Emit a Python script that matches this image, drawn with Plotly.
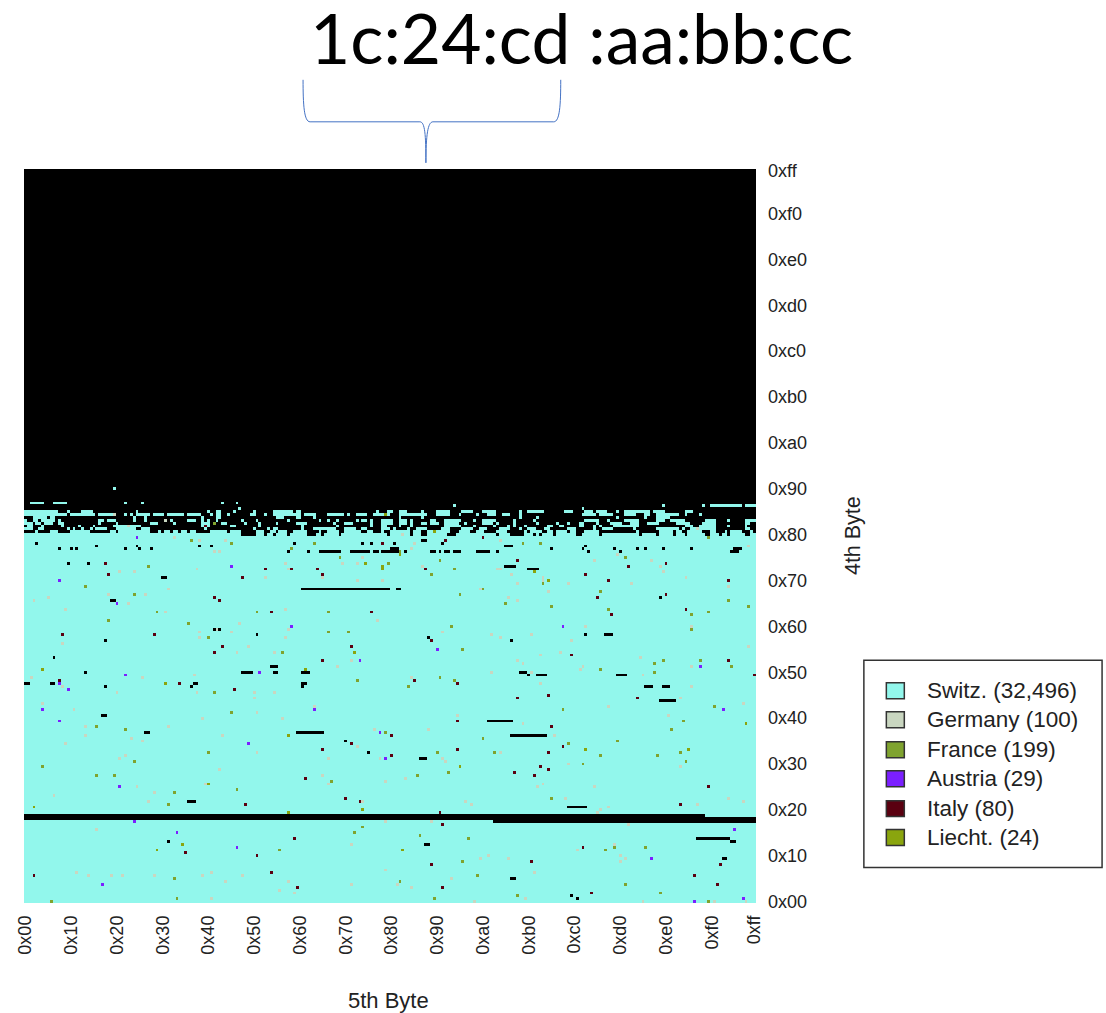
import plotly.graph_objects as go

# ---------- categories ----------
categories = ["Switz. (32,496)", "Germany (100)", "France (199)", "Austria (29)", "Italy (80)", "Liecht. (24)"]
swatch_colors = ["#92f7ec", "#c9d6c0", "#7fa32f", "#7b1fff", "#5a0010", "#8aa50e"]
tick_bytes = [0x00, 0x10, 0x20, 0x30, 0x40, 0x50, 0x60, 0x70, 0x80, 0x90, 0xa0, 0xb0, 0xc0, 0xd0, 0xe0, 0xf0, 0xff]
header_text = "1c:24:cd :aa:bb:cc"

# ---------- values: (5th byte, 4th byte) ----------
germany = [(32,73),(60,73),(80,73),(87,73),(80,71),(6,69),(17,67),(101,68),(81,66),(62,64),(90,64),(21,61),(50,61),(21,58),(69,58),
 (37,57),(41,56),(14,55),(81,52),(35,51),(33,50),(106,50),(124,50),(68,46),(104,44),(126,42),(106,41),(63,41),(39,40),(45,38),
 (10,37),(43,35),(118,35),(126,28),(25,25),(114,20),(18,10),(65,10),(22,9),(126,11),(114,6),(92,7),(89,4),(94,3),(76,9),(70,7),
 (62,9),(45,9),(34,9),(30,9),(65,1),(122,60),(116,54),(229,71),(204,68),(251,69),(151,65),(225,65),(174,62),(141,60),(185,58),
 (166,52),(146,50),(147,49),(190,48),(229,47),(133,43),(181,41),(179,40),(199,40),(189,36),(246,36),(251,35),(235,34),(154,35),
 (156,34),(204,33),(201,32),(200,31),(142,28),(211,27),(206,20),(193,18),(162,16),(159,15),(169,15),(208,16),(208,14),(210,15),
 (178,10),(149,8),(130,6),(135,5),(175,1),(157,0),(216,0),(241,0),(252,0),
 (31,135),(49,133),(36,131),(52,127),(61,126),(70,126),(66,122),(68,122),(33,115),(38,115),(60,116),(91,118),(92,116),(84,113),
 (104,113),(111,118),(116,118),(118,120),(116,112),(125,112),(50,109),(29,107),(42,107),(3,105),(8,106),(36,104),(14,102),(49,101),
 (91,102),(123,98),(75,97),(61,94),(72,94),(67,95),(92,95),(91,92),(61,92),(13,90),(78,89),(74,87),(87,87),(114,84),(109,82),(59,79),
 (2,78),(41,78),(13,75),(132,128),(136,125),(135,123),(166,126),(235,130),(253,124),(207,121),(199,119),(219,119),(222,117),(139,117),
 (165,116),(166,116),(170,114),(223,115),(181,113),(181,112),(231,113),(172,111),(190,111),(212,111),(246,110),(159,109),(183,108),
 (169,106),(172,105),(146,94),(163,93),(166,92),(177,93),(196,96),(233,96),(191,91),(180,86),(253,89),(187,87),(215,85),(172,84),
 (174,83),(195,82),(194,81),(233,82),(163,80),(177,80),(216,79),(135,78),(180,76),(233,75)]
france = [(66,73),(72,66),(25,61),(35,60),(64,52),(38,49),(6,47),(25,44),(31,44),(107,42),(74,39),(52,38),(50,34),(126,59),(118,26),
 (115,24),(89,18),(52,8),(9,0),(53,1),(188,67),(241,68),(230,63),(226,60),(160,57),(190,55),(207,56),(229,52),(221,51),(201,51),
 (164,52),(144,52),(231,49),(148,45),(137,44),(195,48),(184,36),(138,23),(155,22),(203,18),(206,19),(217,19),(153,14),(158,9),
 (131,7),(210,6),(222,3),(172,2),(143,1),(239,0),
 (58,126),(72,125),(66,132),(101,125),(93,123),(110,120),(127,118),(43,117),(21,110),(38,107),(46,101),(81,101),(106,101),(29,98),
 (57,97),(64,92),(106,94),(113,94),(90,87),(116,77),(174,125),(180,125),(239,127),(210,120),(131,122),(145,119),(150,116),(142,114),
 (181,111),(160,109),(152,107),(201,108),(168,104),(184,103),(204,102),(233,100),(239,101),(253,103),(246,105),(149,96),(233,95),
 (153,88),(223,84),(220,83),(236,84),(247,82),(201,81),(220,80),(145,78),(150,77),(134,75)]
austria = [(15,74),(6,67),(12,63),(101,67),(124,59),(78,55),(126,50),(33,40),(38,28),(53,24),(74,19),(27,6),(244,67),(248,25),(219,15),
 (234,0),(251,1),(39,127),(12,112),(72,117),(32,104),(93,96),(35,79),(82,80),(12,76),(117,84),(144,88),(188,96),(236,82)]
italy = [(73,74),(114,55),(104,53),(98,43),(112,36),(117,35),(77,34),(94,22),(81,16),(56,17),(86,10),(95,5),(3,9),(172,71),(183,72),
 (214,71),(151,63),(184,61),(128,58),(188,54),(128,51),(151,53),(183,52),(180,47),(183,46),(171,45),(178,44),(239,40),(229,34),
 (145,31),(146,27),(142,13),(177,14),(243,13),(146,5),(242,6),(198,3),(234,9),(195,19),
 (28,118),(29,114),(66,106),(68,105),(13,93),(45,93),(69,89),(66,87),(12,77),(54,76),(84,116),(93,116),(76,113),(86,101),(121,101),
 (102,116),(104,114),(114,89),(104,84),(63,131),(125,125),(147,126),(160,127),(140,116),(172,119),(211,117),(224,118),(196,114),
 (204,112),(246,112),(200,106),(224,107),(231,102),(205,100),(142,91),(191,86),(246,84),(136,77),(151,76),(255,79)]
liecht = [(92,58),(64,41),(3,33),(118,32),(92,31),(55,20),(46,18),(252,62),(196,53),(232,53),(152,47),(132,18),
 (119,118),(125,117),(125,116),(115,87),(6,81),(98,81),(49,76),(126,135),(143,129),(178,115),(183,112),(131,121)]
# runs of unassigned space: (4th byte, first 5th byte, last 5th byte)
black_runs = [(65,27,28),(59,42,43),(59,95,104),(56,112,112),(52,120,120),(35,57,59),(21,50,50),
 (30,0,163),(29,0,163),(30,164,237),(29,164,237),(28,164,237),(29,238,255),(28,238,255),
 (63,162,170),(58,170,182),(70,222,227),(50,138,140),(33,190,196),(20,140,141),(22,235,246),(21,247,248),(15,244,245),(8,170,171),
 (2,191,191),(1,193,193),
 (125,4,4),(123,12,12),(123,16,16),(123,18,18),(124,25,25),(123,35,35),(124,39,39),(123,40,40),(123,44,44),(124,61,61),(124,65,65),
 (125,94,94),(122,92,92),(122,99,99),(122,103,110),(122,114,118),(122,119,120),(122,122,123),(122,125,131),(123,128,130),(125,118,118),
 (125,121,121),(118,15,15),(118,22,22),(113,48,49),(105,30,31),(109,97,127),(109,130,131),(95,66,66),(95,68,68),(93,81,81),(91,28,28),
 (85,10,10),(80,21,21),(80,76,79),(82,86,88),(80,87,88),(80,97,99),(76,0,1),(76,9,10),(75,28,28),(76,59,60),(75,58,58),(76,97,98),(75,97,97),
 (125,129,129),(126,139,140),(125,146,146),(124,168,170),(123,184,184),(123,195,195),(124,196,196),(122,197,197),(123,206,206),
 (122,208,208),(123,214,214),(123,217,217),(123,223,223),(123,233,233),(122,247,249),(123,248,250),(122,133,133),(122,142,143),
 (122,145,145),(122,147,148),(122,150,152),(122,158,162),(122,165,165),(117,168,171),(116,176,179),(106,222,222),(92,141,141),
 (91,170,170),(93,196,196),(93,203,205),(80,173,175),(79,176,176),(79,179,182),(79,207,210),(75,217,219),(75,223,225),
 # gaps along the lower edge of the noisy rows
 (129,0,3),(129,5,8),(129,12,15),(129,23,29),(129,32,32),(129,44,46),(129,48,48),(129,51,51),(129,54,54),(129,57,57),(129,60,64),(129,71,71),
 (129,76,80),(129,84,85),(129,88,88),(129,92,93),(129,99,102),(129,104,105),(129,110,111),(129,118,119),(129,122,124),
 (129,126,127),(129,135,135),(129,139,140),(129,143,143),(129,149,151),(129,156,157),(129,161,164),(129,169,174),(129,176,176),(129,181,182),
 (129,185,185),(129,190,190),(129,193,195),(129,201,213),(129,215,220),(129,221,221),(129,227,227),(129,230,231),(129,237,239),(129,242,244),
 (129,246,246),(129,251,253),(129,255,255),
 (128,76,79),(128,80,80),(128,84,84),(128,87,87),(128,92,92),(128,99,101),(128,104,104),(128,110,110),(128,127,127),(128,135,135),
 (128,139,140),(128,148,150),(128,165,165),(128,170,174),(128,178,178),(128,180,180),(128,185,185),(128,193,194),(128,201,201),(128,215,215),
 (128,221,221),(128,227,227),(128,231,231),(128,238,239),(128,243,243),(128,246,246),(128,252,253)]
# allocated runs above the solid block: (4th byte, first 5th byte, last 5th byte)
switz_runs = [(144,31,31),(139,2,6),(139,10,14),(139,35,35),(139,41,41),(139,69,69),(139,74,74),(138,150,150),(138,223,223),(138,237,237),
 (138,240,249),(138,250,250),(138,252,254),(138,255,255),(137,75,75),(137,195,195),
 (136,0,11),(136,15,15),(136,20,23),(136,39,39),(136,64,64),(136,67,68),(136,73,73),(136,80,80),(136,87,93),(136,95,96),(136,123,123),
 (136,127,128),(136,131,133),(136,139,139),(136,144,148),(136,153,156),(136,160,164),(136,173,173),(136,176,181),(136,189,191),(136,196,198),
 (136,200,203),(136,207,207),(136,210,218),(136,220,223),(136,231,233),
 (135,0,14),(135,16,24),(135,26,31),(135,35,35),(135,37,37),(135,39,43),(135,45,48),(135,50,55),(135,57,61),(135,65,65),(135,67,68),(135,71,71),
 (135,79,80),(135,84,84),(135,87,90),(135,91,93),(135,94,96),(135,98,101),(135,106,111),(135,113,113),(135,116,119),(135,122,127),(135,131,140),
 (135,144,147),(135,148,148),(135,152,152),(135,158,158),(135,162,164),(135,167,169),(135,173,173),(135,195,199),(135,201,205),(135,210,213),
 (135,217,218),(135,221,228),(135,231,231),(135,236,236),
 (134,3,7),(134,9,10),(134,38,38),(134,42,42),(134,62,62),(134,67,68),(134,88,90),(134,95,96),(134,101,101),(134,131,131),(134,139,139),
 (134,173,173),(134,179,179),(134,207,207),(134,217,217),(134,221,225),
 (133,0,0),(133,3,4),(133,6,10),(133,12,12),(133,26,27),(133,29,31),(133,38,38),(133,42,42),(133,51,51),(133,57,59),(133,62,62),(133,64,64),
 (133,67,67),(133,76,76),(133,81,81),(133,92,92),(133,103,103),(133,106,106),(133,109,109),(133,116,116),(133,118,119),(133,121,121),
 (133,125,128),(133,131,133),(133,135,135),(133,142,143),(133,147,152),(133,157,157),(133,160,164),(133,171,171),(133,178,178),(133,196,200),
 (133,204,204),(133,210,214),(133,221,223),(133,226,230),(133,238,241),(133,246,246),(133,252,255),
 (132,0,2),(132,4,5),(132,7,9),(132,12,13),(132,26,26),(132,32,32),(132,44,46),(132,52,52),(132,62,64),(132,69,70),(132,77,77),(132,82,82),
 (132,88,88),(132,95,98),(132,108,108),(132,112,114),(132,121,121),(132,125,128),(132,131,133),(132,135,135),(132,139,140),(132,142,144),
 (132,147,151),(132,154,154),(132,160,163),(132,165,165),(132,171,171),(132,179,179),(132,186,186),(132,190,190),(132,194,195),(132,200,200),
 (132,205,208),(132,212,214),(132,218,221),(132,228,232),(132,237,241),(132,252,253),
 (131,1,2),(131,6,6),(131,13,13),(131,19,19),(131,24,24),(131,31,40),(131,62,62),(131,64,64),(131,72,73),(131,82,82),(131,97,97),(131,109,109),
 (131,121,121),(131,125,126),(131,131,131),(131,135,135),(131,147,152),(131,157,157),(131,164,164),(131,169,169),(131,171,171),(131,175,175),
 (131,183,184),(131,187,188),(131,194,195),(131,199,199),(131,201,201),(131,206,214),(131,231,233),(131,236,241),(131,246,246),(131,252,252),
 (130,0,2),(130,5,6),(130,15,15),(130,17,17),(130,20,20),(130,23,23),(130,25,28),(130,32,38),(130,41,43),(130,63,63),(130,80,80),(130,85,85),
 (130,87,88),(130,97,97),(130,101,108),(130,112,115),(130,118,119),(130,125,127),(130,129,129),(130,134,134),(130,137,140),(130,146,148),
 (130,153,156),(130,159,161),(130,166,169),(130,173,173),(130,176,178),(130,182,183),(130,190,192),(130,199,199),(130,202,205),(130,213,213),
 (130,221,228),(130,230,230),(130,233,241),(130,252,253)]

# ---------- grid ----------
EMPTY, SWITZ, GER, FRA, AUT, ITA, LIE = range(7)
grid = [[SWITZ if r < 130 else EMPTY for c in range(256)] for r in range(256)]
for r, a, b in switz_runs:
    for c in range(a, b + 1):
        grid[r][c] = SWITZ
for r, a, b in black_runs:
    for c in range(a, b + 1):
        grid[r][c] = EMPTY
for code, cells in ((GER, germany), (FRA, france), (AUT, austria), (ITA, italy), (LIE, liecht)):
    for c, r in cells:
        grid[r][c] = code

palette = ["#000000"] + swatch_colors
n = len(palette)
scale = []
for i, col in enumerate(palette):
    scale += [[i / n, col], [(i + 1) / n, col]]

INK = "#222222"
FONT = "Liberation Sans"
fig = go.Figure(go.Heatmap(z=grid, x=list(range(256)), y=list(range(256)), zmin=-0.5, zmax=6.5,
                           colorscale=scale, showscale=False, hoverinfo="skip"))

labels = [f"0x{b:02x}" for b in tick_bytes]
L, R, T, B = 23.6, 349.5, 169.2, 109.6
fig.update_layout(
    width=1106, height=1013, autosize=False, paper_bgcolor="white", plot_bgcolor="white",
    margin=dict(l=L, r=R, t=T, b=B, pad=0),
    font=dict(family=FONT, size=18, color=INK), showlegend=False,
    xaxis=dict(range=[-0.5, 255.5], tickvals=tick_bytes, ticktext=labels, tickangle=-90, showgrid=False, zeroline=False,
               showline=False, ticks="", ticklabelstandoff=8, tickfont=dict(size=18, family=FONT, color=INK), automargin=False),
    yaxis=dict(range=[-0.5, 255.5], tickvals=tick_bytes, ticktext=labels, side="right", showgrid=False, zeroline=False,
               showline=False, ticks="", ticklabelstandoff=11, tickfont=dict(size=18, family=FONT, color=INK), automargin=False),
)

# paper fractions from page positions (paper spans the plot area only)
def px(x): return (x - L) / (1106 - L - R)
def py(y): return 1 - (y - T) / (1013 - T - B)

annotations = [
    dict(text=header_text, x=px(582), y=py(37), font=dict(family="Lato", size=69.5, color="#000000")),
    dict(text="5th Byte", x=px(389), y=py(1001), font=dict(size=22)),
    dict(text="4th Byte", x=px(853), y=py(536), textangle=-90, font=dict(size=21.5)),
]
shapes = [
    dict(type="path", xref="paper", yref="paper", line=dict(color="#4472c4", width=1),
         path=f"M {px(303)} {py(80)} C {px(303)} {py(105)} {px(304)} {py(122)} {px(310)} {py(122)} L {px(420)} {py(122)} "
              f"C {px(425)} {py(122)} {px(426)} {py(135)} {px(426)} {py(163)} C {px(426)} {py(135)} {px(428)} {py(122)} {px(433)} {py(122)} "
              f"L {px(554)} {py(122)} C {px(560)} {py(122)} {px(561)} {py(105)} {px(561)} {py(80)}"),
    dict(type="rect", xref="paper", yref="paper", x0=px(864.5), x1=px(1103), y0=py(660.5), y1=py(868),
         line=dict(color="#333333", width=1.5), fillcolor="white"),
]
legend_rows = [691, 720, 750, 779, 809, 838]
for name, col, y in zip(categories, swatch_colors, legend_rows):
    shapes.append(dict(type="rect", xref="paper", yref="paper", x0=px(887), x1=px(905), y0=py(y - 8), y1=py(y + 8),
                       line=dict(color="#333333", width=1.5), fillcolor=col))
    annotations.append(dict(text=name, x=px(926), y=py(y), xanchor="left", font=dict(size=22.5)))
for a in annotations:
    a.update(xref="paper", yref="paper", showarrow=False)
    a.setdefault("xanchor", "center")
    a.setdefault("yanchor", "middle")
fig.update_layout(annotations=annotations, shapes=shapes)

fig.write_html("out.html", config=dict(displayModeBar=False), post_script="document.body.style.margin='0';")
